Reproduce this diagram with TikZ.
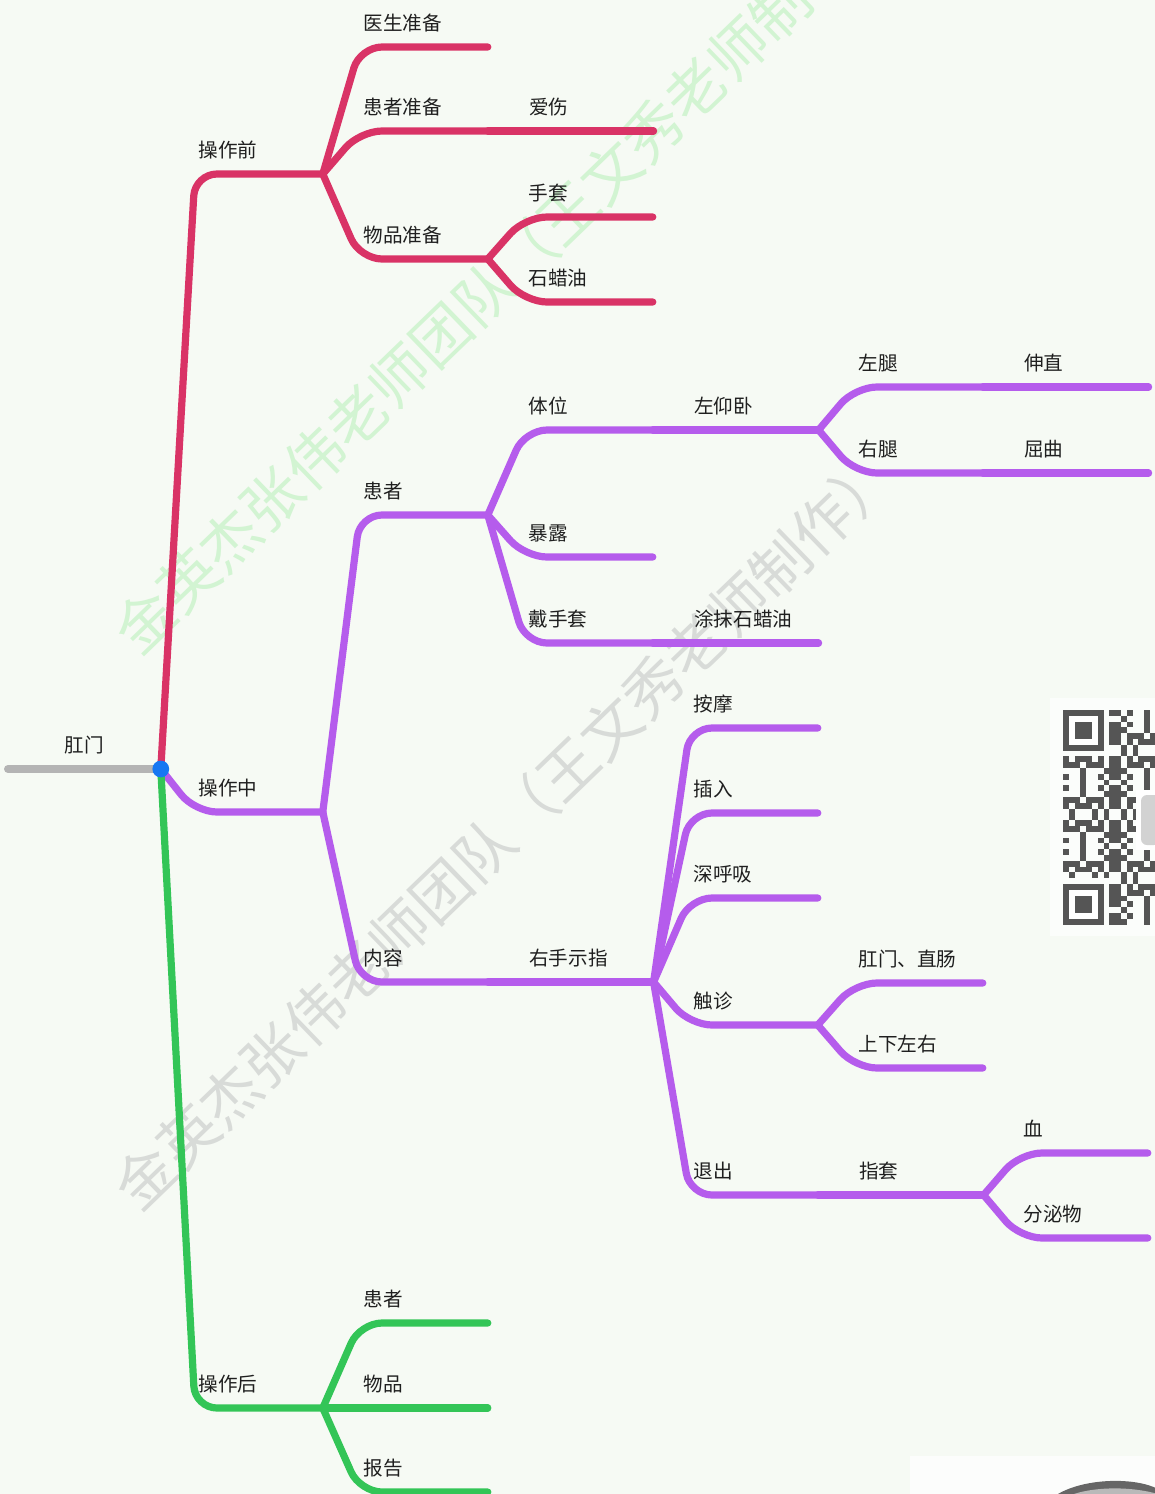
\documentclass[tikz,border=0pt]{standalone}
\usepackage{fontspec}
\newfontfamily\cjk{Noto Sans CJK SC}
\usetikzlibrary{positioning}
\definecolor{bgcol}{HTML}{F6FAF4}
\definecolor{prered}{HTML}{D93366}
\definecolor{midpurple}{HTML}{B55CEC}
\definecolor{postgreen}{HTML}{33C557}
\definecolor{rootgray}{HTML}{B4B4B4}
\definecolor{dotblue}{HTML}{1677F2}
\definecolor{wmgreen}{HTML}{D2F4D2}
\definecolor{wmgray}{HTML}{D8DBD8}
\definecolor{qrgray}{HTML}{555555}
\tikzset{
    topic/.style={anchor=south west, text width=60.5pt, inner xsep=1.5pt, inner ysep=8pt, text height=7pt, text depth=0pt, align=left, font=\cjk\fontsize{9.8}{11}\selectfont, text=black!88},
    roottopic/.style={topic, text width=73pt, align=center},
    branch/.style={line width=3.6pt, line cap=round, rounded corners=11pt},
    redbr/.style={branch, draw=prered},
    purplebr/.style={branch, draw=midpurple},
    greenbr/.style={branch, draw=postgreen},
    rootbr/.style={branch, line width=4pt, draw=rootgray},
    wmark/.style={rotate=44, inner sep=0pt, font=\cjk\fontsize{29.4}{30}\selectfont}
}
\begin{document}
\begin{tikzpicture}[x=0.5pt, y=-0.5pt]
    \useasboundingbox (0,0) rectangle (1155,1494);
    \fill[bgcol] (0,0) rectangle (1155,1494);

    % watermarks
    \node (wm1) [wmark, text=wmgreen] at (505,274) {金英杰张伟老师团队（王文秀老师制作）};
    \node (wm2) [wmark, text=wmgray] at (505,830) {金英杰张伟老师团队（王文秀老师制作）};

    % qr code
    \fill[white!60!bgcol] (1050,698) rectangle (1155,936);
    \foreach \i in {0,...,15}{
        \foreach \j in {0,...,36}{
            \pgfmathtruncatemacro\infinder{(\i<8)&&((\j<8)||(\j>28))}
            \pgfmathtruncatemacro\bit{mod(\i*\i*7+\j*\j*3+\i*\j*11+\j*5+\i*2,11)}
            \ifnum\infinder=0
                \ifnum\bit<5
                    \fill[qrgray] (1063+\i*5.8,710+\j*5.8) rectangle ++(5.8,5.8);
                \fi
            \fi
        }
    }
    \foreach \r in {0,30}{
        \fill[qrgray] (1063,710+\r*5.8) rectangle ++(40.6,40.6);
        \fill[white] (1068.8,715.8+\r*5.8) rectangle ++(29,29);
        \fill[qrgray] (1074.6,721.6+\r*5.8) rectangle ++(17.4,17.4);
    }
    \fill[white] (1136,790) rectangle (1155,850);
    \fill[gray!35, rounded corners=3pt] (1141,795) rectangle (1160,845);

    % corner of the screen
    \fill[white!70!bgcol] (910,1456) rectangle (1155,1494);
    \fill[qrgray!90] (1058,1494) .. controls (1085,1478) and (1135,1477) .. (1158,1489) -- (1158,1494) -- cycle;
    \fill[gray!55] (1074,1494) .. controls (1095,1487) and (1130,1486) .. (1158,1494) -- cycle;

    % topics
    \node (root) [roottopic] at (8,769) {肛门};
    \node (pre) [topic] at (195,174) {操作前};
    \node (mid) [topic] at (195,812) {操作中};
    \node (post) [topic] at (195,1408) {操作后};

    \node (ysz) [topic] at (360,47) {医生准备};
    \node (hzzb) [topic] at (360,131) {患者准备};
    \node (ais) [topic] at ([xshift=19pt]hzzb.south east) {爱伤};
    \node (wpzb) [topic] at (360,259) {物品准备};
    \node (shoutao) [topic] at (525,217) {手套};
    \node (sly) [topic] at (525,302) {石蜡油};

    \node (huanzhe) [topic] at (360,515) {患者};
    \node (tiwei) [topic] at (525,430) {体位};
    \node (zyw) [topic] at ([xshift=19pt]tiwei.south east) {左仰卧};
    \node (zuotui) [topic] at (855,387) {左腿};
    \node (shenzhi) [topic] at ([xshift=19pt]zuotui.south east) {伸直};
    \node (youtui) [topic] at (855,473) {右腿};
    \node (quqv) [topic] at ([xshift=19pt]youtui.south east) {屈曲};
    \node (baolu) [topic] at (525,557) {暴露};
    \node (dst) [topic] at (525,643) {戴手套};
    \node (tmsly) [topic] at ([xshift=19pt]dst.south east) {涂抹石蜡油};

    \node (neirong) [topic] at (360,982) {内容};
    \node (yssz) [topic] at ([xshift=19pt]neirong.south east) {右手示指};
    \node (anmo) [topic] at (690,728) {按摩};
    \node (charu) [topic] at (690,813) {插入};
    \node (shx) [topic] at (690,898) {深呼吸};
    \node (chuzhen) [topic] at (690,1025) {触诊};
    \node (gmzc) [topic] at (855,983) {肛门、直肠};
    \node (sxzy) [topic] at (855,1068) {上下左右};
    \node (tuichu) [topic] at (690,1195) {退出};
    \node (zhitao) [topic] at ([xshift=19pt]tuichu.south east) {指套};
    \node (xue) [topic] at (1020,1153) {血};
    \node (fmw) [topic] at (1020,1238) {分泌物};

    \node (hz2) [topic] at (360,1323) {患者};
    \node (wp2) [topic] at (360,1408) {物品};
    \node (bg) [topic] at (360,1492) {报告};

    % connectors
    \draw[rootbr] (root.south west) -- (root.south east);
    \foreach \p/\c in {root/pre, pre/ysz, pre/hzzb, hzzb/ais, pre/wpzb, wpzb/shoutao, wpzb/sly}
        \draw[redbr] (\p.south east) -- (\c.south west) -- (\c.south east);
    \foreach \p/\c in {root/mid, mid/huanzhe, huanzhe/tiwei, tiwei/zyw, zyw/zuotui, zuotui/shenzhi, zyw/youtui, youtui/quqv, huanzhe/baolu, huanzhe/dst, dst/tmsly, mid/neirong, neirong/yssz, yssz/anmo, yssz/charu, yssz/shx, yssz/chuzhen, chuzhen/gmzc, chuzhen/sxzy, yssz/tuichu, tuichu/zhitao, zhitao/xue, zhitao/fmw}
        \draw[purplebr] (\p.south east) -- (\c.south west) -- (\c.south east);
    \foreach \p/\c in {root/post, post/hz2, post/wp2, post/bg}
        \draw[greenbr] (\p.south east) -- (\c.south west) -- (\c.south east);
    \fill[dotblue] (root.south east) circle [radius=4.2pt];
\end{tikzpicture}
\end{document}
